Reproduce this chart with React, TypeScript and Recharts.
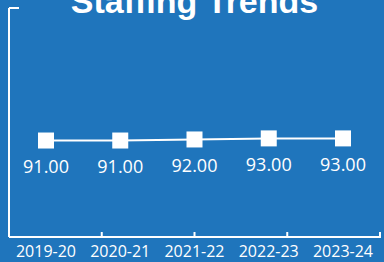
import { LabelList, Line, LineChart, XAxis, YAxis } from 'recharts';

const years = ['2019-20', '2020-21', '2021-22', '2022-23', '2023-24'];
const staffing = [91, 91, 92, 93, 93];
const yDomain = [0, 216];
const yTopTick = [216];
const bandEdges = [1, 2, 3, 4, 5];

const data = years.map((year, i) => ({ year, staff: staffing[i] }));

const BG = '#1f75bc';
const FONT = '"Open Sans", sans-serif';

function SquareDot(props: any) {
  const { cx, cy } = props;
  if (cx == null || cy == null) return null;
  return <rect x={cx - 8} y={cy - 8} width={16} height={16} fill="#ffffff" />;
}

// inward tick marks, drawn at the positions the axes hand us
function UpTick(props: any) {
  const { x, y } = props;
  return <line x1={x} x2={x} y1={y} y2={y - 6} stroke="#fff" strokeWidth={2} />;
}

function RightTick(props: any) {
  const { x, y } = props;
  return <line x1={x} x2={x + 10} y1={y} y2={y} stroke="#fff" strokeWidth={2} />;
}

export default function App() {
  return (
    <div style={{ position: 'fixed', left: 0, top: 0, width: 384, height: 262, background: BG, overflow: 'hidden' }}>
      <div
        style={{
          position: 'absolute',
          left: 9,
          top: -16,
          width: 371,
          textAlign: 'center',
          color: '#fff',
          fontFamily: '"Liberation Sans", Arial, sans-serif',
          fontWeight: 700,
          fontSize: 34,
          lineHeight: '34px',
          whiteSpace: 'nowrap',
        }}
      >
        Staffing Trends
      </div>
      <LineChart width={384} height={262} data={data} margin={{ top: 8, right: 4, left: 8, bottom: 23 }}>
        <XAxis
          xAxisId="edges"
          type="number"
          domain={[0, 5]}
          ticks={bandEdges}
          interval={0}
          height={1}
          axisLine={false}
          tickLine={false}
          tickSize={0}
          tickMargin={0}
          tick={UpTick}
        />
        <XAxis
          dataKey="year"
          height={1}
          padding={{ left: 37, right: 37 }}
          axisLine={{ stroke: '#fff', strokeWidth: 2 }}
          tickLine={false}
          tickSize={0}
          tickMargin={9}
          interval={0}
          tick={{ fill: '#fff', fontSize: 16, fontFamily: FONT }}
        />
        <YAxis
          domain={yDomain}
          ticks={yTopTick}
          interval={0}
          width={1}
          axisLine={{ stroke: '#fff', strokeWidth: 2 }}
          tickLine={false}
          tickSize={0}
          tickMargin={0}
          tick={RightTick}
        />
        <Line
          dataKey="staff"
          stroke="#ffffff"
          strokeWidth={2}
          dot={<SquareDot />}
          activeDot={false}
          isAnimationActive={false}
        >
          <LabelList
            dataKey="staff"
            position="bottom"
            offset={20}
            formatter={(v: any) => Number(v).toFixed(2)}
            fill="#ffffff"
            fontSize={18}
            fontFamily={FONT}
          />
        </Line>
      </LineChart>
    </div>
  );
}
